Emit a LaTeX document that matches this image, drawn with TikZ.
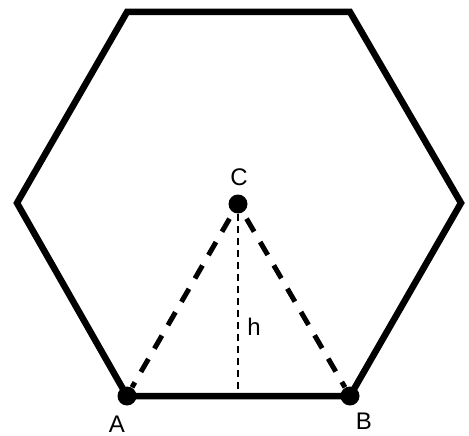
\documentclass[tikz,border=0pt]{standalone}
\usepackage{fontspec}
\setmainfont{Liberation Sans}
\begin{document}
\begin{tikzpicture}[x=1pt,y=-1pt,
  hexline/.style={line width=6.5pt,line join=miter},
  thickdash/.style={line width=5pt,dash pattern=on 15pt off 12pt},
  thindash/.style={line width=1.8pt,dash pattern=on 7pt off 5pt},
  dotnode/.style={circle,fill=black,inner sep=0pt,minimum size=19pt},
  lbl/.style={font=\fontsize{24}{28}\selectfont,inner sep=0pt}]
\useasboundingbox (0,0) rectangle (469,436);
\coordinate (P1) at (127,12);
\coordinate (P2) at (350,12);
\coordinate (P3) at (461,203);
\coordinate (P4) at (350,396);
\coordinate (P5) at (127,396);
\coordinate (P6) at (17,203);
\draw[hexline] (P1) -- (P2) -- (P3) -- (P4) -- (P5) -- (P6) -- cycle;
\node[dotnode] (C) at (238,204) {};
\node[dotnode] (A) at (127,396) {};
\node[dotnode] (B) at (350,396) {};
\coordinate (M) at (238,396);
\draw[thickdash,shorten <=17pt,shorten >=10pt] (C.center) -- (A.center);
\draw[thickdash,shorten <=17pt,shorten >=10pt] (C.center) -- (B.center);
\draw[thindash] (C.south) -- (M);
\node[lbl] (lC) at (239,177) {C};
\node[lbl] (lA) at (117,424) {A};
\node[lbl] (lB) at (364,421) {B};
\node[lbl] (lh) at (254,327) {h};
\end{tikzpicture}
\end{document}
